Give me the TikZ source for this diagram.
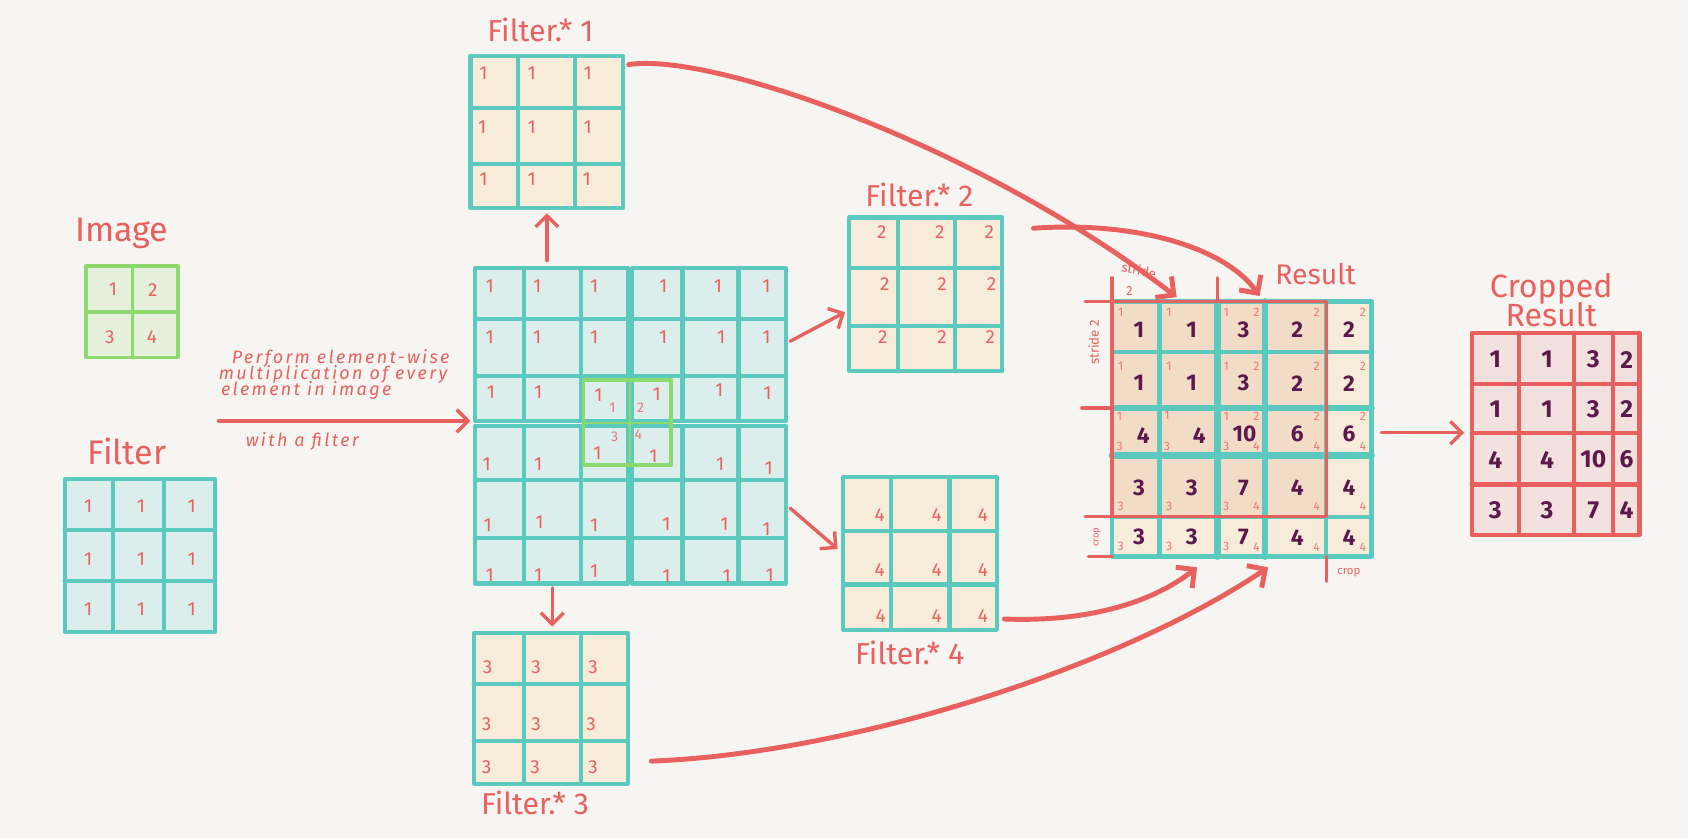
\documentclass[tikz,border=0pt]{standalone}
\usepackage{fontspec}
\setmainfont{Fira Sans}
\newfontfamily\handfont{Fira Sans}[LetterSpace=13]
\usetikzlibrary{arrows.meta}
\definecolor{bg}{HTML}{F6F5F1}
\definecolor{tealc}{HTML}{5CC9BE}
\definecolor{tealfill}{HTML}{DCEEEB}
\definecolor{beige}{HTML}{F6ECD9}
\definecolor{redc}{HTML}{E8615F}
\definecolor{greenc}{HTML}{8ED96E}
\definecolor{greenfill}{HTML}{E4EFDC}
\definecolor{salmon}{HTML}{F2DCC7}
\definecolor{pinkfill}{HTML}{F3E1DF}
\definecolor{purp}{HTML}{5C1A4C}
\newcommand\tgrid[9]{%
 \fill[#1] (#2,#6) rectangle (#5,#9);
 \draw[tline] (#3,#6)--(#3,#9) (#4,#6)--(#4,#9) (#2,#7)--(#5,#7) (#2,#8)--(#5,#8);
 \draw[tline] (#2,#6) rectangle (#5,#9);}
\begin{document}
\begin{tikzpicture}[x=0.02cm,y=-0.02cm,
  tline/.style={draw=tealc,line width=2.2pt,line cap=round,line join=round},
  gline/.style={draw=greenc,line width=2pt,line cap=round,line join=round},
  rline/.style={draw=redc,line width=1.8pt,line cap=round,line join=round},
  lbl/.style={text=redc,font=\fontsize{18}{20}\selectfont,inner sep=0pt},
  lbltwo/.style={text=redc,font=\fontsize{16}{18}\selectfont,inner sep=0pt},
  num/.style={text=redc,font=\fontsize{10}{10}\selectfont,inner sep=0pt},
  tiny/.style={text=redc,font=\fontsize{7}{7}\selectfont,inner sep=0pt},
  sm/.style={text=redc!85,font=\fontsize{6.5}{6.5}\selectfont,inner sep=0pt},
  big/.style={text=purp,font=\bfseries\fontsize{12}{12}\selectfont,inner sep=0pt},
  hand/.style={text=redc,font=\handfont\itshape\fontsize{9.5}{9.5}\selectfont,inner sep=0pt,anchor=west},
  arr/.style={draw=redc,line width=1.8pt,line cap=round,-{Straight Barb[length=6pt,width=12pt]}},
  bigarr/.style={draw=redc,line width=2.6pt,line cap=round,-{Straight Barb[length=7pt,width=14pt]}}]
\useasboundingbox[fill=bg] (0,0) rectangle (1568,778);

% ---------- Image ----------
\node[lbl] (imglbl) at (113,217) {Image};
\fill[greenfill] (80,247) rectangle (165,332);
\draw[gline] (123,247)--(123,332) (80,290)--(165,290);
\draw[gline] (80,247) rectangle (165,332);
\node[num] (im1) at (105,269) {1};
\node[num] (im2) at (142,269) {2};
\node[num] (im3) at (102,313) {3};
\node[num] (im4) at (141,313) {4};

% ---------- Filter ----------
\node[lbl] (fltlbl) at (118,419) {Filter};
\tgrid{tealfill}{60}{105}{152}{200}{445}{492}{540}{587}
\foreach \x/\y [count=\i] in {82/470,131/470,178/470,82/519,131/519,178/519,82/566,131/566,178/566}
  \node[num] (flt\i) at (\x,\y) {1};

% ---------- text and arrow ----------
\node[hand] (t1) at (215,333) {Perform element-wise};
\node[hand] (t2) at (203,348) {multiplication of every};
\node[hand] (t3) at (205,363) {element in image};
\node[hand] (t4) at (228,410) {with a filter};
\coordinate (ta) at (203,391);
\coordinate (tb) at (437,391);
\draw[arr] (ta) -- (tb);

% ---------- big grid ----------
\tgrid{tealfill}{441}{487}{540}{583}{249}{296}{349}{391}
\tgrid{tealfill}{587}{634}{686}{730}{249}{296}{349}{391}
\tgrid{tealfill}{441}{487}{540}{583}{396}{446}{500}{542}
\tgrid{tealfill}{587}{634}{686}{730}{396}{446}{500}{542}
\foreach \x/\y [count=\i] in {455/266,499/266,552/266,455/313,499/313,552/313,456/364,500/364,556/367,
  616/266,667/266,712/266,616/313,670/313,712/313,610/366,668/362,713/365,
  452/431,500/431,555/421,453/488,501/485,552/488,455/534,500/534,552/531,
  607/424,669/431,714/435,619/487,673/487,712/492,619/535,675/535,715/534}
  \node[num] (bg\i) at (\x,\y) {1};
% green image overlay
\draw[greenc,line width=1.2pt] (585,353)--(585,432) (542,393)--(623,393);
\draw[gline] (542,353) rectangle (623,432);
\node[sm,font=\fontsize{7.5}{7.5}\selectfont] (g1) at (569,379) {1};
\node[sm,font=\fontsize{7.5}{7.5}\selectfont] (g2) at (595,379) {2};
\node[sm,font=\fontsize{7.5}{7.5}\selectfont] (g3) at (571,406) {3};
\node[sm,font=\fontsize{7.5}{7.5}\selectfont] (g4) at (593,404) {4};

% ---------- Filter .* 1 ----------
\node[lbltwo] (f1lbl) at (502,28) {Filter.* 1};
\tgrid{beige}{437}{481}{534}{579}{52}{100}{152}{193}
\foreach \x/\y [count=\i] in {449/68,494/68,546/68,448/118,494/118,546/118,449/166,494/166,545/166}
  \node[num] (fa\i) at (\x,\y) {1};
\coordinate (upa) at (508,242);
\coordinate (upb) at (508,198);
\draw[arr] (upa) -- (upb);

% ---------- Filter .* 2 ----------
\node[lbltwo] (f2lbl) at (854,181) {Filter.* 2};
\tgrid{beige}{789}{834}{887}{931}{202}{249}{303}{345}
\foreach \x/\y [count=\i] in {819/216,873/216,919/216,822/264,875/264,921/264,820/313,875/313,920/313}
  \node[num] (fb\i) at (\x,\y) {2};
\coordinate (ra) at (734,317);
\coordinate (rb) at (785,290);
\draw[arr] (ra) -- (rb);

% ---------- Filter .* 4 ----------
\node[lbltwo] (f4lbl) at (845,606) {Filter.* 4};
\tgrid{beige}{783}{828}{882}{926}{443}{493}{543}{585}
\foreach \x/\y [count=\i] in {817/478,870/478,913/478,817/530,870/530,913/530,818/572,870/572,913/572}
  \node[num] (fd\i) at (\x,\y) {4};
\coordinate (da) at (734,472);
\coordinate (db) at (778,510);
\draw[arr] (da) -- (db);

% ---------- Filter .* 3 ----------
\node[lbltwo] (f3lbl) at (497,746) {Filter.* 3};
\tgrid{beige}{440}{487}{540}{583}{588}{635}{688}{728}
\foreach \x/\y [count=\i] in {453/620,498/620,551/620,452/673,498/673,549/673,452/713,497/713,551/713}
  \node[num] (fc\i) at (\x,\y) {3};
\coordinate (dna) at (513,546);
\coordinate (dnb) at (513,582);
\draw[arr] (dna) -- (dnb);

% ---------- Result ----------
\node[text=redc,font=\fontsize{15}{17}\selectfont,inner sep=0pt] (reslbl) at (1222,255) {Result};
\fill[beige] (1033,280) rectangle (1274,517);
\fill[salmon] (1033,280) rectangle (1232,480);
\draw[tline] (1077,280)--(1077,517) (1232,280)--(1232,517)
             (1033,327)--(1274,327) (1033,480)--(1274,480);
\draw[tline,line width=3.6pt] (1131,280)--(1131,517) (1175,280)--(1175,517)
             (1033,379)--(1274,379) (1033,423)--(1274,423);
\draw[tline] (1033,280) rectangle (1274,517);
% red crop frame and stride marks
\draw[rline] (1033,280) rectangle (1232,480);
\draw[rline] (1008,280)--(1033,280) (1033,258)--(1033,280) (1131,258)--(1131,280)
             (1005,379)--(1033,379) (1008,480)--(1033,480) (1011,517)--(1033,517)
             (1232,517)--(1232,540);
\node[tiny,rotate=-12] (strtop) at (1058,251) {stride};
\node[tiny] (strtop2) at (1049,270) {2};
\node[tiny,rotate=90] (strleft) at (1016,318) {stride 2};
\node[text=redc,font=\fontsize{5}{5}\selectfont,inner sep=0pt,rotate=90] (cropl) at (1019,499) {crop};
\node[text=redc,font=\fontsize{6}{6}\selectfont,inner sep=0pt] (cropb) at (1253,532) {crop};
% big numbers
\foreach \v/\x/\y [count=\i] in {1/1058/306,1/1107/306,3/1155/306,2/1205/306,2/1253/306,
  1/1058/356,1/1107/356,3/1155/356,2/1205/356,2/1253/356,
  4/1062/405,4/1114/405,10/1156/403,6/1205/403,6/1253/403,
  3/1058/453,3/1107/453,7/1155/453,4/1205/453,4/1253/453,
  3/1058/499,3/1107/499,7/1155/499,4/1205/499,4/1253/499}
  \node[big] (rb\i) at (\x,\y) {\v};
% small numbers
\foreach \v/\x/\y [count=\i] in {1/1041/290,1/1086/290,1/1139/290,2/1167/290,2/1223/290,2/1266/290,
  1/1041/340,1/1086/340,1/1139/340,2/1167/340,2/1223/340,2/1266/340,
  1/1040/387,3/1040/415,1/1084/386,3/1084/415,1/1139/387,2/1167/387,3/1139/415,4/1167/415,2/1223/387,4/1223/415,2/1266/387,4/1266/415,
  3/1041/470,3/1086/470,3/1139/470,4/1167/470,4/1223/470,4/1266/470,
  3/1041/508,3/1086/508,3/1139/508,4/1167/508,4/1223/508,4/1266/508}
  \node[sm] (rs\i) at (\x,\y) {\v};

% ---------- Cropped result ----------
\node[text=redc,font=\fontsize{17}{19}\selectfont,inner sep=0pt] (crlbl1) at (1441,268) {Cropped};
\node[text=redc,font=\fontsize{17}{19}\selectfont,inner sep=0pt] (crlbl2) at (1441,292) {Result};
\fill[pinkfill] (1367,309) rectangle (1523,497);
\draw[rline,line width=2.2pt] (1411,309)--(1411,497) (1462,309)--(1462,497) (1498,309)--(1498,497)
   (1367,357)--(1523,357) (1367,402)--(1523,402) (1367,450)--(1523,450);
\draw[rline,line width=2.2pt] (1367,309) rectangle (1523,497);
\foreach \v/\x/\y [count=\i] in {1/1389/334,1/1437/334,3/1480/334,2/1511/334,
  1/1389/380,1/1437/380,3/1480/380,2/1511/380,
  4/1389/427,4/1437/427,10/1480/427,6/1511/427,
  3/1389/474,3/1437/474,7/1480/474,4/1511/474}
  \node[big,font=\bfseries\fontsize{13}{13}\selectfont] (cr\i) at (\x,\y) {\v};
\coordinate (ca) at (1283,402);
\coordinate (cb) at (1360,402);
\draw[arr] (ca) -- (cb);

% ---------- long arrows ----------
\coordinate (a1s) at (584,60);  \coordinate (a1e) at (1093,276);
\coordinate (a2s) at (960,212); \coordinate (a2e) at (1170,275);
\coordinate (a4s) at (933,575); \coordinate (a4e) at (1112,527);
\coordinate (a3s) at (605,707); \coordinate (a3e) at (1178,527);
\draw[bigarr] (a1s) .. controls (660,48) and (910,135) .. (a1e);
\draw[bigarr] (a2s) .. controls (1060,205) and (1140,232) .. (a2e);
\draw[bigarr] (a4s) .. controls (1010,578) and (1070,560) .. (a4e);
\draw[bigarr] (a3s) .. controls (790,700) and (1040,620) .. (a3e);
\end{tikzpicture}
\end{document}
